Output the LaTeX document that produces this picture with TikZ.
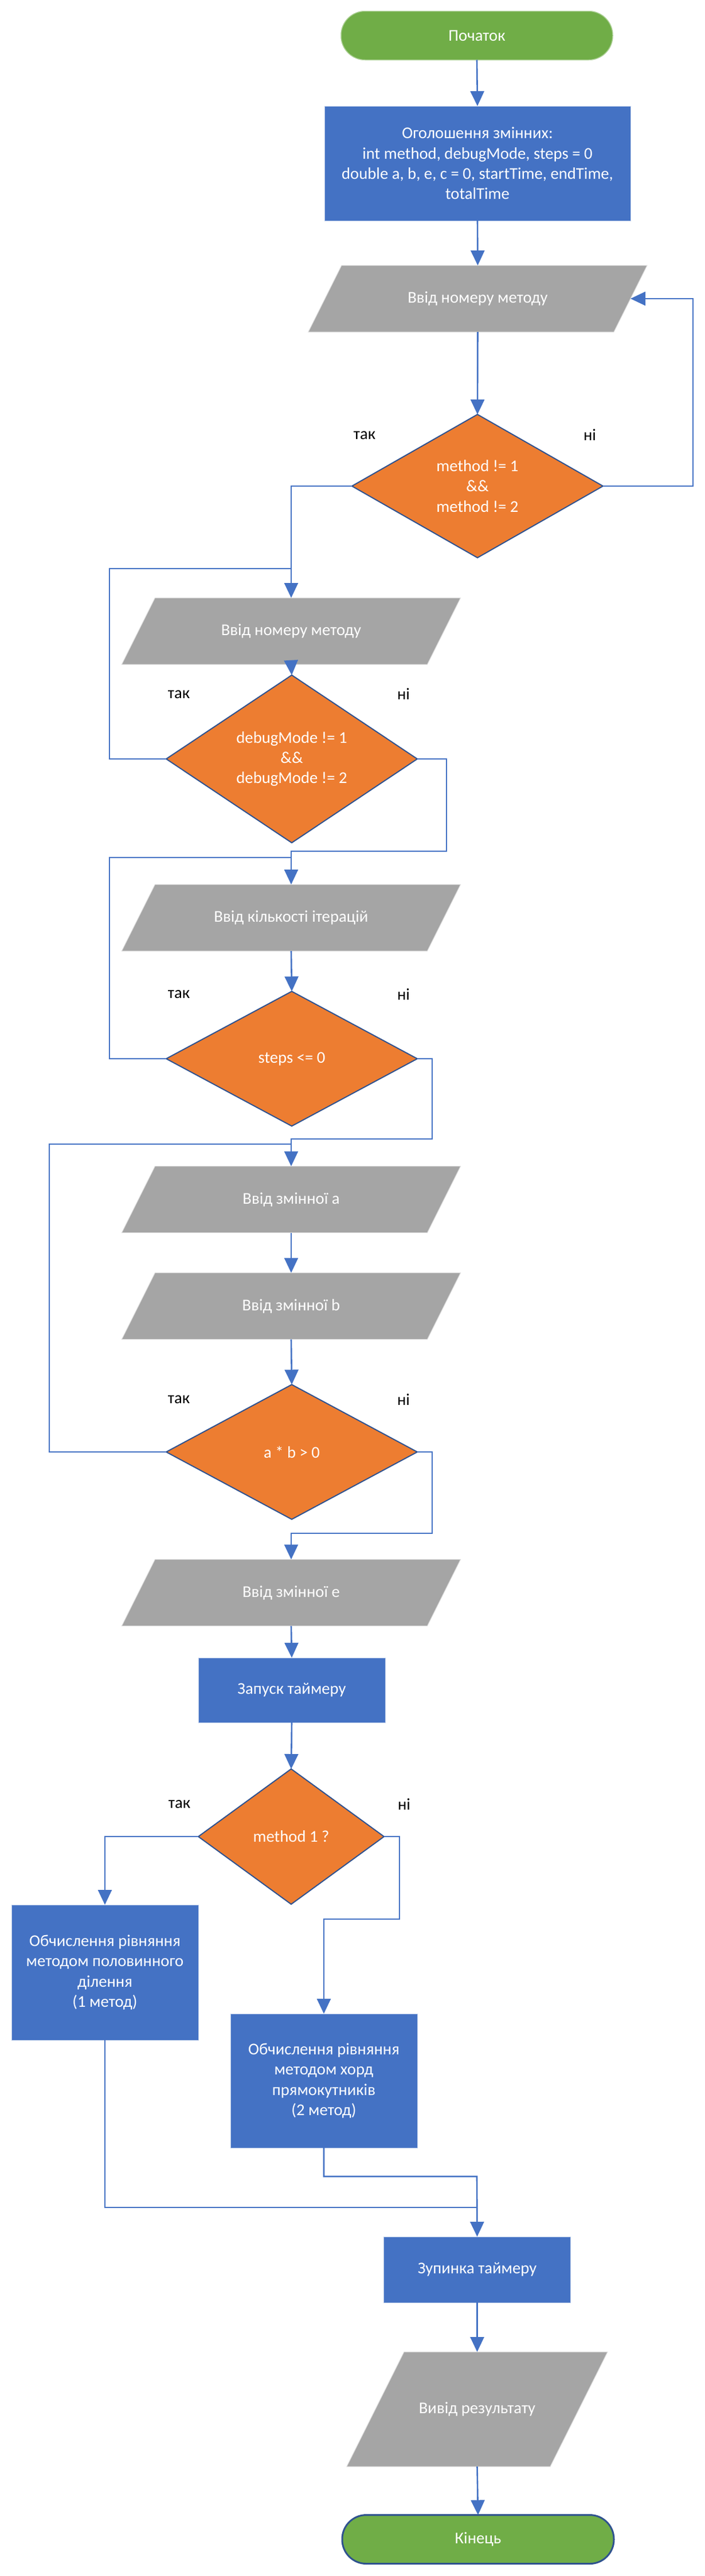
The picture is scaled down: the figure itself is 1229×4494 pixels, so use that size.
\documentclass[tikz,border=0pt]{standalone}
\usepackage{fontspec}
\setmainfont{Carlito}
\usetikzlibrary{shapes.geometric,arrows.meta,backgrounds}
\definecolor{termgreen}{HTML}{70AD47}
\definecolor{procblue}{HTML}{4472C4}
\definecolor{iogray}{HTML}{A5A5A5}
\definecolor{condorange}{HTML}{ED7D31}
\definecolor{edgeblue}{HTML}{2F528F}
\begin{document}
\begin{tikzpicture}[x=1pt,y=-1pt,
    every node/.style={font=\fontsize{28.7}{35.2}\selectfont,outer sep=0pt},
    term/.style={rectangle,rounded corners=42pt,fill=termgreen,draw=termgreen!60!white,line width=1.5pt,
      text=white,minimum width=474pt,minimum height=85pt},
    proc/.style={rectangle,fill=procblue,draw=procblue!35!white,line width=1pt,text=white,align=center,
      minimum width=326pt},
    io/.style={rectangle,text=white,minimum width=533pt,minimum height=116pt},
    iobox/.style={fill=iogray,draw=iogray!40!white,line width=1pt},
    cond/.style={diamond,fill=condorange,draw=edgeblue,line width=2pt,text=white,align=center,
      inner sep=1pt,minimum width=438pt,minimum height=235pt},
    flow/.style={draw=procblue,line width=2.6pt},
    arr/.style={flow,-{Triangle[length=26pt,width=24pt]}}]
  \useasboundingbox (0,0) rectangle (1229,4494);
  \node[term] (begin) at (832,62) {Початок};
  \node[proc,minimum width=534pt,minimum height=200pt] (decl) at (833,285)
    {Оголошення змінних:\\int method, debugMode, steps = 0\\double a, b, e, c = 0, startTime, endTime,\\totalTime};
  \node[io] (readmethod) at (833.5,521) {Ввід номеру методу};
  \node[cond,minimum height=250pt] (chkmethod) at (833,848) {method != 1\\\&\&\\method != 2};
  \node[io] (readdebug) at (508,1101) {Ввід номеру методу};
  \node[cond] (chkdebug) at (509,1324) {debugMode != 1\\\&\&\\debugMode != 2};
  \node[io] (readsteps) at (508,1601) {Ввід кількості ітерацій};
  \node[cond] (chksteps) at (509,1847) {steps <= 0};
  \node[io] (reada) at (508,2092.5) {Ввід змінної a};
  \node[io] (readb) at (508,2278.5) {Ввід змінної b};
  \node[cond] (chkab) at (509,2533) {a * b > 0};
  \node[io] (reade) at (508,2778.5) {Ввід змінної e};
  \node[proc,minimum height=113pt] (tstart) at (509,2948.5) {Запуск таймеру};
  \node[cond,minimum width=324pt,minimum height=236pt] (chkchoice) at (508,3204) {method 1 ?};
  \node[proc,minimum height=236pt] (bisect) at (183,3441)
    {Обчислення рівняння\\методом половинного\\ділення\\(1 метод)};
  \node[proc,minimum height=234pt] (chord) at (565,3630)
    {Обчислення рівняння\\методом хорд\\прямокутників\\(2 метод)};
  \node[proc,minimum height=115pt] (tstop) at (832.5,3959.5) {Зупинка таймеру};
  \node[io,minimum width=355pt,minimum height=200pt] (result) at (832.5,4203) {Вивід результату};
  \node[term,draw=edgeblue,line width=3pt] (finish) at (834,4430) {Кінець};
  \begin{scope}[on background layer]
    \foreach \n/\s in {readmethod/29,readdebug/29,readsteps/29,reada/29,readb/29,reade/29,result/50}
      \path[iobox] ([xshift=-\s pt]\n.south west) -- ([xshift=\s pt]\n.north west)
        -- ([xshift=\s pt]\n.north east) -- ([xshift=-\s pt]\n.south east) -- cycle;
  \end{scope}
  \foreach \lx/\ly/\txt [count=\i] in {636/760/так,1029/759/ні,312/1212/так,704/1211/ні,
      312/1735/так,704/1735/ні,312/2442/так,704/2442/ні,313/3148/так,705/3148/ні}
    \node (lbl\i) at (\lx,\ly) {\txt};
  \coordinate (methodloop) at (1209,521);
  \coordinate (debugloop) at (191,992);
  \coordinate (debugjoin) at (509,992);
  \coordinate (debugno) at (779,1485);
  \coordinate (stepsloop) at (191,1496);
  \coordinate (stepsjoin) at (509,1496);
  \coordinate (stepsno) at (754,1987);
  \coordinate (abloop) at (86,1996);
  \coordinate (abjoin) at (509,1996);
  \coordinate (abno) at (754,2675);
  \coordinate (choiceno) at (697,3348);
  \coordinate (chordjoin) at (832,3797);
  \coordinate (bisectjoin) at (832,3851);
  \draw[arr] (begin.south) -- (decl.north);
  \draw[arr] (decl.south) -- (readmethod.north);
  \draw[arr] (readmethod.south) -- (chkmethod.north);
  \draw[arr] (chkmethod.east) -| (methodloop) -- (readmethod.east);
  \draw[arr] (chkmethod.west) -| (readdebug.north);
  \draw[arr] (readdebug.south) -- (chkdebug.north);
  \draw[flow] (chkdebug.west) -| (debugloop) -- (debugjoin);
  \draw[arr] (chkdebug.east) -| (debugno) -| (readsteps.north);
  \draw[arr] (readsteps.south) -- (chksteps.north);
  \draw[flow] (chksteps.west) -| (stepsloop) -- (stepsjoin);
  \draw[arr] (chksteps.east) -| (stepsno) -| (reada.north);
  \draw[arr] (reada.south) -- (readb.north);
  \draw[arr] (readb.south) -- (chkab.north);
  \draw[flow] (chkab.west) -| (abloop) -- (abjoin);
  \draw[arr] (chkab.east) -| (abno) -| (reade.north);
  \draw[arr] (reade.south) -- (tstart.north);
  \draw[arr] (tstart.south) -- (chkchoice.north);
  \draw[arr] (chkchoice.west) -| (bisect.north);
  \draw[arr] (chkchoice.east) -| (choiceno) -| (chord.north);
  \draw[arr] (chord.south) |- (chordjoin) -- (tstop.north);
  \draw[flow] (bisect.south) |- (bisectjoin);
  \draw[arr] (tstop.south) -- (result.north);
  \draw[arr] (result.south) -- (finish.north);
\end{tikzpicture}
\end{document}
